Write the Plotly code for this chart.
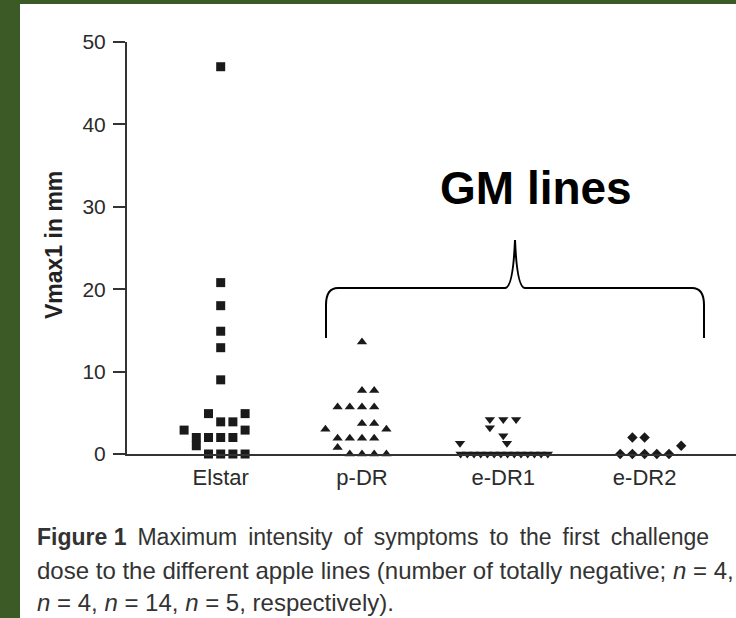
import plotly.graph_objects as go

# ---------------- data ----------------
categories = ["Elstar", "p-DR", "e-DR1", "e-DR2"]

elstar_values = [47, 20.8, 18.0, 14.9, 12.9, 9.0, 4.9, 4.9, 3.9, 3.9, 2.9, 2.9,
                 2.0, 2.0, 2.0, 2.0, 1.0, 0, 0, 0, 0]
elstar_slots = [0, 0, 0, 0, 0, 0, -1, 2, 0, 1, -3, 2,
                -2, -1, 0, 1, -2, -1, 0, 1, 2]

pdr_values = [13.6, 7.7, 7.7, 5.7, 5.7, 5.7, 5.7, 3.7, 3.7, 3.0, 3.0,
              1.9, 1.9, 1.9, 1.9, 0.8, 0, 0, 0, 0]
pdr_slots = [0, 0, 1, -2, -1, 0, 1, 0, 1, -3, 2,
             -2, -1, 0, 1, -2, -1, 0, 1, 2]

edr1_values = [4.2, 4.2, 4.2, 3.2, 2.2, 1.3, 1.3,
               0, 0, 0, 0, 0, 0, 0, 0, 0, 0, 0, 0, 0, 0]
edr1_slots = [-1.1, 0, 1.05, -1.1, 0, -3.55, 0.3,
              -3.5, -2.95, -2.4, -1.85, -1.3, -0.75, -0.2, 0.35, 0.9, 1.45, 2.0, 2.55, 3.1, 3.65]

edr2_values = [2.0, 2.0, 1.0, 0, 0, 0, 0, 0]
edr2_slots = [-1, 0, 3, -2, -1, 0, 1, 2]

y_ticks = [0, 10, 20, 30, 40, 50]

caption_lines = [
    "<b>Figure 1</b>\u2009 Maximum\u2009 intensity\u2009 of\u2009 symptoms\u2009 to\u2009 the\u2009 first\u2009 challenge",
    "dose to the different apple lines (number of totally negative; <i>n</i> = 4,",
    "<i>n</i> = 4, <i>n</i> = 14, <i>n</i> = 5, respectively).",
]
caption_sizes = [23, 24, 24]

# ---------------- styling / geometry ----------------
W, H = 736, 618
L, R, T, B = 127, 736, 42, 454          # plot box in pixels
C0, CSTEP = 220.7, 141.3               # pixel of first category, category spacing
SLOT = 12.2 / CSTEP                    # beeswarm slot width in category units
INK = "#1a1a1a"
AXC = "#333333"
FONT = "Liberation Sans, Arial, sans-serif"
GREEN = "#3c5a26"


def px_paper_x(px):
    return (px - L) / (R - L)


def px_paper_y(py):
    return (B - py) / (B - T)


def px_data_x(px):
    return (px - C0) / CSTEP


def px_data_y(py):
    return (B - py) / (B - T) * 50


fig = go.Figure()

groups = [
    (elstar_values, elstar_slots, "square", 9),
    (pdr_values, pdr_slots, "triangle-up", 9),
    (edr1_values, edr1_slots, "triangle-down", 9),
    (edr2_values, edr2_slots, "diamond", 8),
]
for i, (vals, slots, sym, size) in enumerate(groups):
    fig.add_trace(go.Scatter(
        x=[i + s * SLOT for s in slots], y=vals, mode="markers",
        marker=dict(symbol=sym, size=size, color=INK, line=dict(width=0)),
        cliponaxis=False, showlegend=False, hoverinfo="skip"))

# brace (in pixels -> data)
bp = [(326, 338), (326, 305), (326, 288), (338, 288), (505, 288), (513, 288), (515, 240),
      (517, 288), (525, 288), (692, 288), (704, 288), (704, 305), (704, 338)]
d = [(px_data_x(a), px_data_y(b)) for a, b in bp]
path = (f"M {d[0][0]},{d[0][1]} L {d[1][0]},{d[1][1]} Q {d[2][0]},{d[2][1]} {d[3][0]},{d[3][1]} "
        f"L {d[4][0]},{d[4][1]} Q {d[5][0]},{d[5][1]} {d[6][0]},{d[6][1]} "
        f"Q {d[7][0]},{d[7][1]} {d[8][0]},{d[8][1]} L {d[9][0]},{d[9][1]} "
        f"Q {d[10][0]},{d[10][1]} {d[11][0]},{d[11][1]} L {d[12][0]},{d[12][1]}")

shapes = [
    dict(type="rect", xref="paper", yref="paper", layer="below",
         x0=px_paper_x(20), x1=px_paper_x(W), y0=px_paper_y(H), y1=px_paper_y(4),
         fillcolor="white", line=dict(width=0)),
    dict(type="path", xref="x", yref="y", path=path, line=dict(color="black", width=2)),
]

annotations = [
    dict(text="<b>GM lines</b>", xref="paper", yref="paper",
         x=px_paper_x(536), y=px_paper_y(188), xanchor="center", yanchor="middle",
         showarrow=False, font=dict(family=FONT, size=46, color="black")),
    dict(text="<b>Vmax1 in mm</b>", xref="paper", yref="paper", textangle=-90,
         x=px_paper_x(54), y=px_paper_y(245), xanchor="center", yanchor="middle",
         showarrow=False, font=dict(family=FONT, size=23, color="#222222")),
]
for line, yc, fs in zip(caption_lines, [537, 570, 602], caption_sizes):
    annotations.append(dict(text=line, xref="paper", yref="paper",
                            x=px_paper_x(35), y=px_paper_y(yc), xanchor="left", yanchor="middle",
                            showarrow=False, align="left",
                            font=dict(family=FONT, size=fs, color="#333333")))

fig.update_layout(
    width=W, height=H,
    margin=dict(l=L, r=W - R, t=T, b=H - B, autoexpand=False),
    paper_bgcolor=GREEN, plot_bgcolor="rgba(0,0,0,0)",
    showlegend=False,
    shapes=shapes, annotations=annotations,
    xaxis=dict(range=[px_data_x(L), px_data_x(R)], tickvals=list(range(len(categories))),
               ticktext=categories, showgrid=False, zeroline=False, showline=True,
               linecolor=AXC, linewidth=2, ticks="", ticklabelstandoff=3,
               tickfont=dict(family=FONT, size=22, color="#2b2b2b"), fixedrange=True),
    yaxis=dict(range=[0, 50], tickvals=y_ticks, showgrid=False, zeroline=False,
               showline=True, linecolor=AXC, linewidth=2, ticks="outside", ticklen=12,
               tickwidth=2, tickcolor=AXC, ticklabelstandoff=3,
               tickfont=dict(family=FONT, size=21, color="#2b2b2b"), fixedrange=True),
)

fig.write_html("out.html")
